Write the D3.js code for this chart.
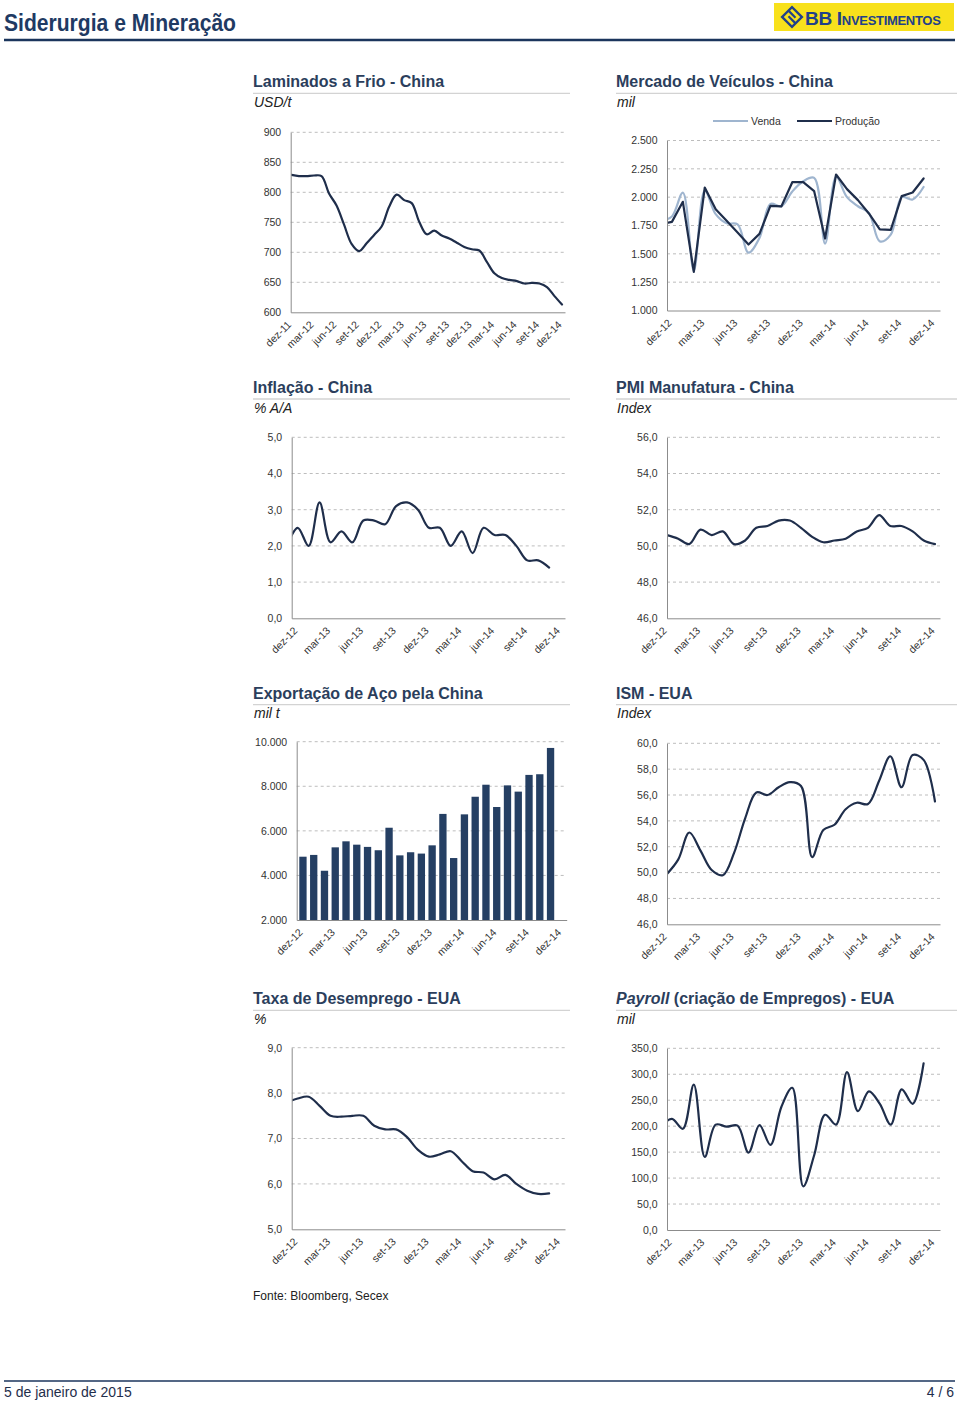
<!DOCTYPE html>
<html><head><meta charset="utf-8">
<script src="https://cdn.jsdelivr.net/npm/d3@7/dist/d3.min.js"></script>
<style>
body{margin:0;background:#fff;}
svg{display:block;font-family:"Liberation Sans",Arial,Helvetica,sans-serif;}
</style></head><body>
<svg id="page" width="960" height="1404"></svg>
<script>
// ---------- DATA ----------
const allMonths = ["dez-11","jan-12","fev-12","mar-12","abr-12","mai-12","jun-12","jul-12","ago-12","set-12","out-12","nov-12",
  "dez-12","jan-13","fev-13","mar-13","abr-13","mai-13","jun-13","jul-13","ago-13","set-13","out-13","nov-13",
  "dez-13","jan-14","fev-14","mar-14","abr-14","mai-14","jun-14","jul-14","ago-14","set-14","out-14","nov-14","dez-14"];

const lamTickLabels = ["dez-11","mar-12","jun-12","set-12","dez-12","mar-13","jun-13","set-13","dez-13","mar-14","jun-14","set-14","dez-14"];
const tickLabels24 = ["dez-12","mar-13","jun-13","set-13","dez-13","mar-14","jun-14","set-14","dez-14"];

// Laminados a Frio - China (USD/t), dez-11 .. dez-14
const lamStart = "dez-11";
const lamValues = [829,827,827,828,827,798,778,746,714,702,715,729,743,776,796,787,782,751,730,736,728,723,716,709,705,703,684,665,657,654,652,648,649,648,642,627,613];

// Mercado de Veículos - China (mil), nov-12 .. nov-14
const veicStart = "nov-12";
const vendaValues    = [1790,1830,2040,1350,2060,1850,1770,1760,1510,1640,1940,1920,2050,2140,2170,1590,2180,2000,1920,1860,1610,1670,2000,1980,2090];
const producaoValues = [1760,1782,1959,1341,2085,1894,1791,1688,1582,1676,1924,1918,2132,2132,2053,1635,2200,2071,1974,1856,1715,1712,2009,2041,2165];

// Inflação - China (% A/A), nov-12 .. nov-14
const inflStart = "nov-12";
const inflValues = [2.0,2.5,2.0,3.2,2.1,2.4,2.1,2.7,2.7,2.6,3.1,3.2,3.0,2.5,2.5,2.0,2.4,1.8,2.5,2.3,2.3,2.0,1.6,1.6,1.4];

// PMI Manufatura - China, dez-12 .. dez-14
const pmiStart = "dez-12";
const pmiValues = [50.6,50.4,50.1,50.9,50.6,50.8,50.1,50.3,51.0,51.1,51.4,51.4,51.0,50.5,50.2,50.3,50.4,50.8,51.0,51.7,51.1,51.1,50.8,50.3,50.1];

// Exportação de Aço pela China (mil t), bars as placed on the axis
const expStart = "dez-12";
const expValues = [4840,4920,4210,5260,5530,5380,5280,5130,6140,4900,5040,4980,5350,6760,4780,6740,7530,8070,7070,8040,7760,8510,8540,9720];

// ISM - EUA, dez-12 .. dez-14
const ismStart = "dez-12";
const ismValues = [49.9,51.0,53.1,51.7,50.2,49.8,51.5,54.2,56.2,56.0,56.6,57.0,56.7,51.2,53.3,53.7,54.9,55.4,55.3,57.1,59.0,56.6,59.1,58.7,55.5];

// Taxa de Desemprego - EUA (%), nov-12 .. nov-14
const desStart = "nov-12";
const desValues = [7.8,7.88,7.92,7.72,7.5,7.48,7.5,7.5,7.28,7.2,7.2,7.03,6.75,6.6,6.65,6.72,6.5,6.28,6.25,6.1,6.2,6.0,5.85,5.78,5.79];

// Payroll - EUA (mil), nov-12 .. nov-14
const payStart = "nov-12";
const payValues = [200,214,195,280,141,203,199,201,149,202,164,237,274,84,144,222,203,304,229,267,243,203,271,243,321];

// y tick values
const lamTicks = [600,650,700,750,800,850,900];
const veicTicks = [1000,1250,1500,1750,2000,2250,2500];
const inflTicks = [0,1,2,3,4,5];
const pmiTicks = [46,48,50,52,54,56];
const expTicks = [2000,4000,6000,8000,10000];
const ismTicks = [46,48,50,52,54,56,58,60];
const desTicks = [5,6,7,8,9];
const payTicks = [0,50,100,150,200,250,300,350];

// ---------- RENDER ----------
const FONT = '"Liberation Sans", Arial, Helvetica, sans-serif';
const NAVY = "#1f2e4b";
const TITLE = "#2b3e5c";
const BAR = "#253f63";
const LIGHT = "#9fb5cf";
const loc = d3.formatLocale({decimal: ",", thousands: ".", grouping: [3], currency: ["R$", ""]});
const fInt = loc.format(",.0f");
const fDec = loc.format(",.1f");
const fPlain = loc.format(".0f");

const svg = d3.select("#page");

// header
svg.append("text").attr("x", 4).attr("y", 31).attr("font-size", 23).attr("font-weight", "bold")
  .attr("fill", "#1f3a63").attr("textLength", 232).attr("lengthAdjust", "spacingAndGlyphs")
  .text("Siderurgia e Mineração");
svg.append("line").attr("x1", 4).attr("x2", 955).attr("y1", 40).attr("y2", 40)
  .attr("stroke", "#1b355c").attr("stroke-width", 2.5);
// logo
const LOGO = "#22408a";
const logo = svg.append("g");
logo.append("rect").attr("x", 774).attr("y", 3).attr("width", 180).attr("height", 28).attr("fill", "#f8e11c");
const ic = logo.append("g").attr("transform", "translate(792,17) rotate(45)");
ic.append("rect").attr("x", -7).attr("y", -7).attr("width", 14).attr("height", 14)
  .attr("fill", "none").attr("stroke", LOGO).attr("stroke-width", 2.4);
ic.append("line").attr("x1", -7).attr("x2", 3).attr("y1", -2).attr("y2", -2).attr("stroke", LOGO).attr("stroke-width", 2.2);
ic.append("line").attr("x1", -3).attr("x2", 7).attr("y1", 2).attr("y2", 2).attr("stroke", LOGO).attr("stroke-width", 2.2);
logo.append("text").attr("x", 805).attr("y", 24.5).attr("fill", LOGO).attr("font-weight", "bold")
  .attr("font-size", 19).style("font-variant", "small-caps").attr("letter-spacing", -0.3)
  .text("BB Investimentos");

// footer
svg.append("line").attr("x1", 4).attr("x2", 955).attr("y1", 1381).attr("y2", 1381)
  .attr("stroke", "#1b355c").attr("stroke-width", 1.5);
svg.append("text").attr("x", 4).attr("y", 1397).attr("font-size", 14).attr("fill", "#1f2e4b").text("5 de janeiro de 2015");
svg.append("text").attr("x", 954).attr("y", 1397).attr("font-size", 14).attr("fill", "#1f2e4b")
  .attr("text-anchor", "end").text("4 / 6");
svg.append("text").attr("x", 253).attr("y", 1300).attr("font-size", 12).attr("fill", "#222").text("Fonte: Bloomberg, Secex");

let clipId = 0;
function pos(start, i) { return allMonths.indexOf(start) + i; }

function drawPanel(p) {
  const g = svg.append("g");
  const t = g.append("text").attr("x", p.tx).attr("y", p.ty).attr("font-size", 16)
    .attr("font-weight", "bold").attr("fill", TITLE);
  p.title.forEach(part => t.append("tspan").attr("font-style", part.italic ? "italic" : "normal").text(part.text));
  g.append("line").attr("x1", p.tx).attr("x2", p.ux2).attr("y1", p.ty + 6).attr("y2", p.ty + 6)
    .attr("stroke", "#d3d3d3").attr("stroke-width", 1.3);
  g.append("text").attr("x", p.tx + 1).attr("y", p.ty + 19.5).attr("font-size", 14)
    .attr("font-style", "italic").attr("fill", "#222").text(p.unit);

  const base = allMonths.indexOf(p.base);
  const x = d3.scaleLinear().domain([base + p.xd[0], base + p.xd[1]]).range([p.left, p.right]);
  const y = d3.scaleLinear().domain([p.yTicks[0], p.yTicks[p.yTicks.length - 1]]).range([p.bottom, p.top]);

  g.append("g").selectAll("line").data(p.yTicks.slice(1)).join("line")
    .attr("x1", p.left).attr("x2", p.right).attr("y1", d => y(d)).attr("y2", d => y(d))
    .attr("stroke", "#bdbdbd").attr("stroke-width", 1).attr("stroke-dasharray", "3,3");

  const ya = g.append("g").attr("transform", `translate(${p.left},0)`)
    .call(d3.axisLeft(y).tickValues(p.yTicks).tickFormat(p.yFmt).tickSize(0).tickSizeOuter(0).tickPadding(9.5));
  ya.attr("font-family", FONT).attr("font-size", 10.5);
  ya.select(".domain").attr("stroke", "#8c8c8c");
  ya.selectAll("text").attr("fill", "#333");

  const tickPos = p.xLabels.map(l => allMonths.indexOf(l));
  const xa = g.append("g").attr("transform", `translate(0,${p.bottom})`)
    .call(d3.axisBottom(x).tickValues(tickPos).tickFormat(v => allMonths[v]).tickSize(0).tickSizeOuter(0));
  xa.attr("font-family", FONT).attr("font-size", 10.5);
  xa.select(".domain").attr("stroke", "#8c8c8c");
  xa.selectAll("text").attr("fill", "#333").attr("y", 0).attr("dy", 0).attr("x", 0)
    .attr("text-anchor", "end").attr("transform", "translate(0,13) rotate(-45)");

  const cid = "clip" + (clipId++);
  g.append("clipPath").attr("id", cid).append("rect")
    .attr("x", p.left + 0.5).attr("y", p.top - 20).attr("width", p.right - p.left).attr("height", p.bottom - p.top + 20);
  const plot = g.append("g").attr("clip-path", `url(#${cid})`);

  if (p.bars) {
    const step = x(base + 1) - x(base);
    plot.selectAll("rect.bar").data(p.bars.values).join("rect").attr("class", "bar")
      .attr("x", (d, i) => x(pos(p.bars.start, i)) - step * 0.34)
      .attr("width", step * 0.68)
      .attr("y", d => y(d)).attr("height", d => p.bottom - y(d))
      .attr("fill", BAR);
  }
  (p.series || []).forEach(s => {
    const line = d3.line().x(d => x(d[0])).y(d => y(d[1])).curve(s.smooth ? d3.curveCatmullRom.alpha(0.5) : d3.curveLinear);
    const pts = s.values.map((v, i) => [pos(s.start, i), v]);
    plot.append("path").attr("d", line(pts)).attr("fill", "none")
      .attr("stroke", s.color).attr("stroke-width", s.width || 2.2)
      .attr("stroke-linejoin", "round").attr("stroke-linecap", "round");
  });
  g.node().appendChild(ya.node());
  g.node().appendChild(xa.node());
  return g;
}

const RY = 305.7;
const L = {tx: 253, ux2: 570};
const R = {tx: 616, ux2: 957};

drawPanel({...L, ty: 87.3, title: [{text: "Laminados a Frio - China"}], unit: "USD/t",
  left: 290.7, right: 565, top: 132.3, bottom: 312.3, base: "dez-11", xd: [-0.1, 36.4],
  yTicks: lamTicks, yFmt: fPlain, xLabels: lamTickLabels,
  series: [{start: lamStart, values: lamValues, color: NAVY, smooth: true}]});

const veic = drawPanel({...R, ty: 87.3, title: [{text: "Mercado de Veículos - China"}], unit: "mil",
  left: 667, right: 940, top: 140.5, bottom: 310.5, base: "dez-12", xd: [-0.45, 24.5],
  yTicks: veicTicks, yFmt: fInt, xLabels: tickLabels24,
  series: [{start: veicStart, values: vendaValues, color: LIGHT, smooth: true, width: 2.2},
           {start: veicStart, values: producaoValues, color: NAVY, smooth: false, width: 2.2}]});
const leg = [{name: "Venda", color: LIGHT, x: 713}, {name: "Produção", color: NAVY, x: 797}];
leg.forEach(d => {
  veic.append("line").attr("x1", d.x).attr("x2", d.x + 35).attr("y1", 121).attr("y2", 121)
    .attr("stroke", d.color).attr("stroke-width", 2.2);
  veic.append("text").attr("x", d.x + 38).attr("y", 124.7).attr("font-size", 10.5).attr("fill", "#333").text(d.name);
});

drawPanel({...L, ty: 87.3 + RY, title: [{text: "Inflação - China"}], unit: "% A/A",
  left: 291.7, right: 565, top: 437.3, bottom: 618.3, base: "dez-12", xd: [-0.55, 24.45],
  yTicks: inflTicks, yFmt: fDec, xLabels: tickLabels24,
  series: [{start: inflStart, values: inflValues, color: NAVY, smooth: true}]});

drawPanel({...R, ty: 87.3 + RY, title: [{text: "PMI Manufatura - China"}], unit: "Index",
  left: 667, right: 940, top: 437.3, bottom: 618.3, base: "dez-12", xd: [0, 24.45],
  yTicks: pmiTicks, yFmt: fDec, xLabels: tickLabels24,
  series: [{start: pmiStart, values: pmiValues, color: NAVY, smooth: true}]});

drawPanel({...L, ty: 87.3 + 2 * RY, title: [{text: "Exportação de Aço pela China"}], unit: "mil t",
  left: 296.7, right: 566.7, top: 741.7, bottom: 920, base: "dez-12", xd: [-0.58, 24.5],
  yTicks: expTicks, yFmt: fInt, xLabels: tickLabels24,
  bars: {start: expStart, values: expValues}});

drawPanel({...R, ty: 87.3 + 2 * RY, title: [{text: "ISM - EUA"}], unit: "Index",
  left: 667, right: 940, top: 743.3, bottom: 924.3, base: "dez-12", xd: [0, 24.45],
  yTicks: ismTicks, yFmt: fDec, xLabels: tickLabels24,
  series: [{start: ismStart, values: ismValues, color: NAVY, smooth: true}]});

drawPanel({...L, ty: 87.3 + 3 * RY, title: [{text: "Taxa de Desemprego - EUA"}], unit: "%",
  left: 291.7, right: 565, top: 1047.7, bottom: 1229.3, base: "dez-12", xd: [-0.55, 24.45],
  yTicks: desTicks, yFmt: fDec, xLabels: tickLabels24,
  series: [{start: desStart, values: desValues, color: NAVY, smooth: true}]});

drawPanel({...R, ty: 87.3 + 3 * RY, title: [{text: "Payroll", italic: true}, {text: " (criação de Empregos) - EUA"}], unit: "mil",
  left: 667, right: 940, top: 1048.3, bottom: 1230, base: "dez-12", xd: [-0.45, 24.5],
  yTicks: payTicks, yFmt: fDec, xLabels: tickLabels24,
  series: [{start: payStart, values: payValues, color: NAVY, smooth: true}]});
</script>
</body></html>
